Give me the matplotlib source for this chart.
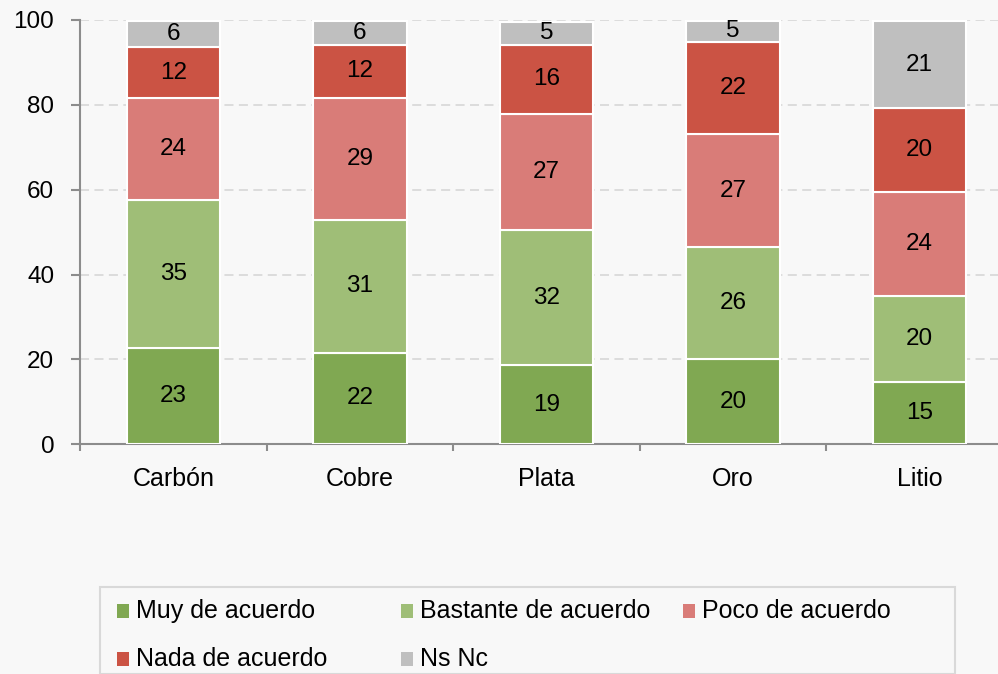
import numpy as np
import matplotlib
matplotlib.use("Agg")
from matplotlib import pyplot as plt
from matplotlib.patches import Rectangle

plt.rcParams['font.family'] = ['Liberation Sans', 'DejaVu Sans']

categories = ['Carbón', 'Cobre', 'Plata', 'Oro', 'Litio']
series_names = ['Muy de acuerdo', 'Bastante de acuerdo', 'Poco de acuerdo',
                'Nada de acuerdo', 'Ns Nc']
muy = [22.8, 21.6, 18.6, 20.1, 14.8]
bastante = [34.8, 31.3, 31.9, 26.3, 20.2]
poco = [23.9, 28.8, 27.4, 26.8, 24.4]
nada = [12.2, 12.4, 16.3, 21.6, 19.8]
nsnc = [6.0, 5.6, 5.4, 5.0, 20.6]
colors = ['#80A852', '#9FBE77', '#D97C78', '#CB5344', '#BFBFBF']

bg = '#F8F8F8'
fig = plt.figure(figsize=(9.98, 6.74), dpi=100, facecolor=bg)
W, H = 998, 674
ax = fig.add_axes([80 / W, 1 - 444.3 / H, 933 / W, 424.3 / H])
ax.set_facecolor(bg)

x = np.arange(len(categories))
bottom = np.zeros(len(categories))
for vals, col in zip([muy, bastante, poco, nada, nsnc], colors):
    vals = np.array(vals)
    bars = ax.bar(x, vals, 0.5, bottom=bottom, color=col, edgecolor='white',
                  linewidth=1.5, zorder=3)
    ax.bar_label(bars, labels=[f"{v:.0f}" for v in vals], label_type='center',
                 fontsize=17.5, color='black')
    bottom += vals

ax.set_xlim(-0.5, len(categories) - 0.5)
ax.set_ylim(0, 100)
ax.set_yticks([0, 20, 40, 60, 80, 100])
ax.yaxis.grid(True, color='#D9D9D9', linestyle=(0, (5, 3)), linewidth=1.3, zorder=0)

ax.set_xticks(x)
ax.set_xticklabels(categories, fontsize=18)
ax.set_xticks(np.arange(-0.5, len(categories), 1.0), minor=True)
ax.tick_params(axis='x', which='major', length=0, pad=16)
ax.tick_params(axis='x', which='minor', length=5, width=1.5, color='#8C8C8C', direction='out')
ax.tick_params(axis='y', length=6.5, width=1.5, color='#8C8C8C', labelsize=17.5, pad=12)

for s in ['top', 'right']:
    ax.spines[s].set_visible(False)
for s in ['left', 'bottom']:
    ax.spines[s].set_color('#8C8C8C')
    ax.spines[s].set_linewidth(1.5)

# legend drawn by hand so the columns sit where the original has them
fig.add_artist(Rectangle((100 / W, 0), 855 / W, 1 - 587 / H, transform=fig.transFigure,
                         facecolor=bg, edgecolor='#D9D9D9', linewidth=1.5))
col_x = [117, 401, 683]
row_y = [611, 659]
for i, (name, col) in enumerate(zip(series_names, colors)):
    cx = col_x[i % 3]
    cy = row_y[i // 3]
    fig.add_artist(Rectangle((cx / W, 1 - (cy + 7) / H), 12 / W, 14 / H,
                             transform=fig.transFigure, facecolor=col,
                             edgecolor='none'))
    fig.text((cx + 19) / W, 1 - cy / H, name, fontsize=18, va='center', ha='left')

plt.savefig('out.png', dpi=100, facecolor=bg)
plt.close()
